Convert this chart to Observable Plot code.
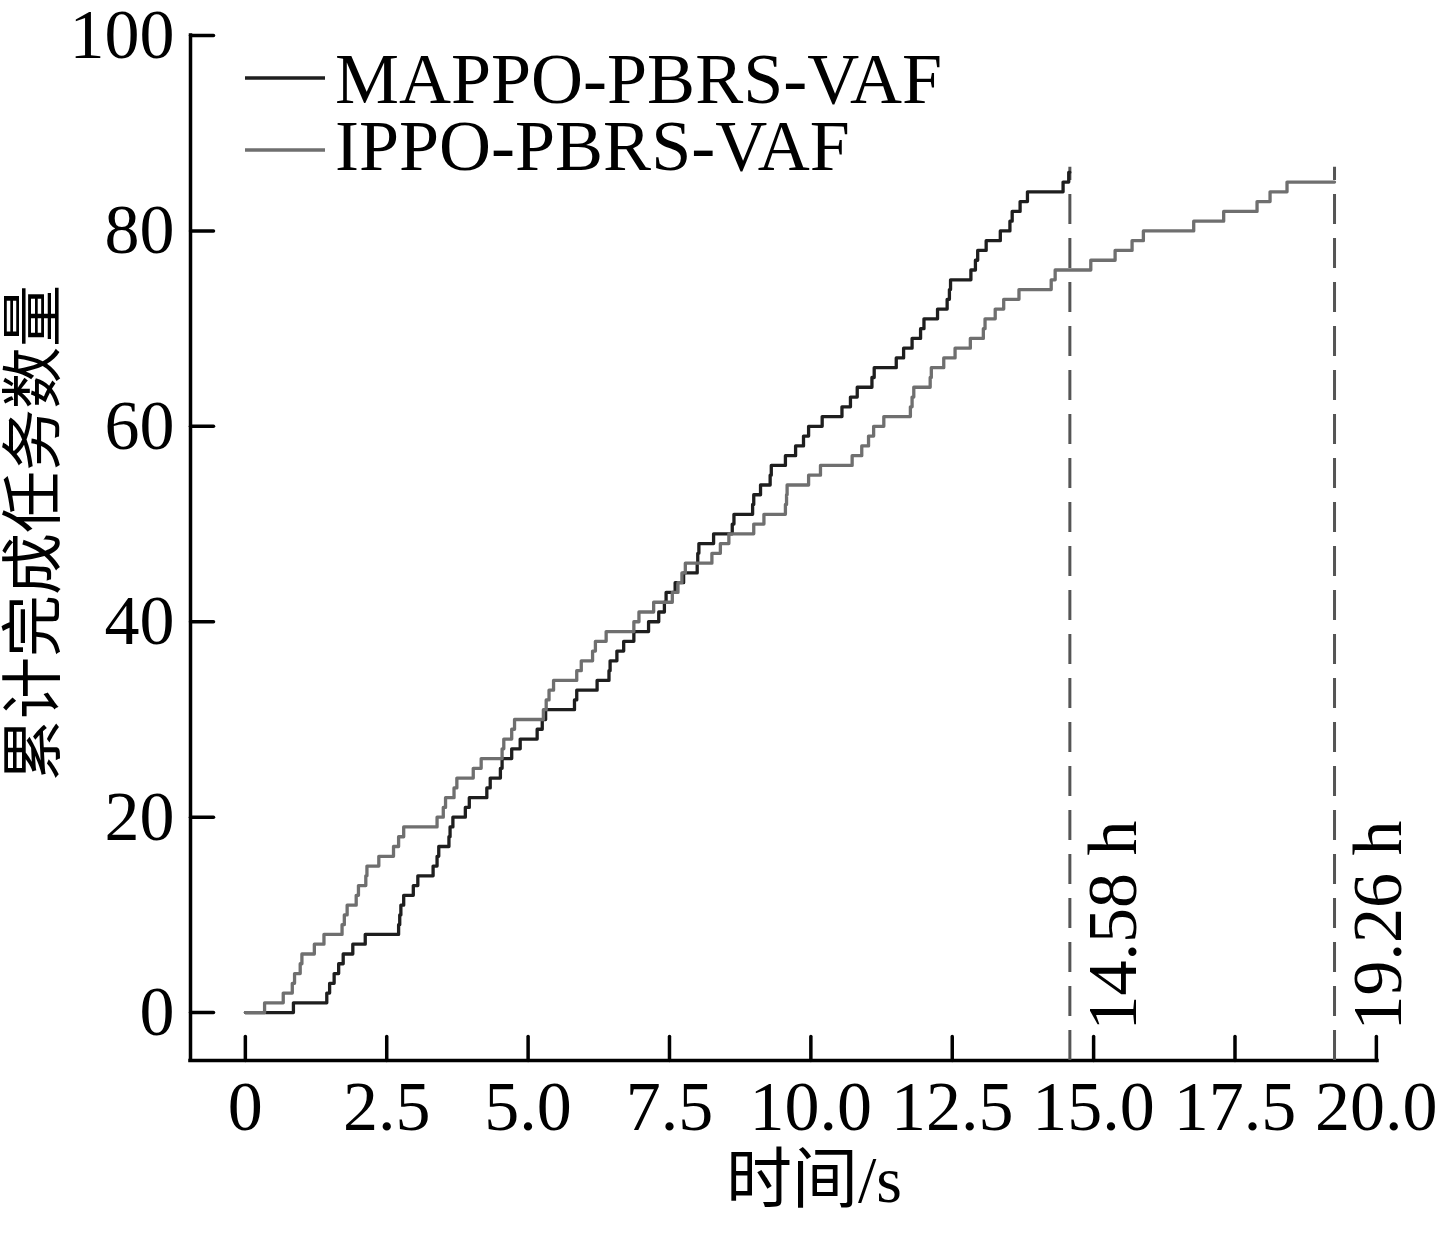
<!DOCTYPE html>
<html>
<head>
<meta charset="utf-8">
<script src="https://cdn.jsdelivr.net/npm/d3@7"></script>
<script src="https://cdn.jsdelivr.net/npm/@observablehq/plot@0.6"></script>
<style>
  html, body { margin: 0; padding: 0; background: #ffffff; }
  #wrap { position: relative; width: 1440px; height: 1238px; background: #ffffff; }
  #legend { position: absolute; left: 0; top: 0; pointer-events: none; }
</style>
</head>
<body>
<div id="wrap"></div>
<script>
// ---------------- data ----------------
const seriesNames = ["MAPPO-PBRS-VAF", "IPPO-PBRS-VAF"];
const seriesColors = ["#1e1e1e", "#6f6f6f"];

// time (s) at which the cumulative completed-task count reaches 1, 2, 3, ...
const mappoStepTimes = [
  0.85, 1.44, 1.49, 1.57, 1.65, 1.73, 1.90, 2.12, 2.71, 2.73,
  2.75, 2.80, 2.97, 3.05, 3.32, 3.39, 3.42, 3.60, 3.62, 3.67,
  3.89, 3.96, 4.27, 4.33, 4.51, 4.54, 4.71, 4.86, 5.16, 5.25,
  5.31, 5.82, 5.86, 6.22, 6.43, 6.45, 6.57, 6.69, 6.87, 7.13,
  7.31, 7.41, 7.44, 7.60, 7.75, 7.99, 8.00, 8.02, 8.28, 8.61,
  8.64, 8.97, 8.99, 9.11, 9.28, 9.30, 9.55, 9.73, 9.87, 9.96,
  10.20, 10.55, 10.70, 10.82, 11.08, 11.12, 11.51, 11.64, 11.79, 11.94,
  12.00, 12.24, 12.41, 12.45, 12.47, 12.83, 12.91, 12.95, 13.10, 13.35,
  13.52, 13.56, 13.70, 13.83, 14.46, 14.56
];
const ippoStepTimes = [
  0.34, 0.67, 0.83, 0.87, 0.97, 1.00, 1.22, 1.39, 1.71, 1.75,
  1.80, 1.96, 2.00, 2.13, 2.15, 2.36, 2.62, 2.71, 2.80, 3.39,
  3.50, 3.54, 3.69, 3.74, 4.03, 4.17, 4.54, 4.57, 4.71, 4.76,
  5.27, 5.32, 5.37, 5.45, 5.86, 5.94, 6.14, 6.19, 6.38, 6.87,
  6.96, 7.22, 7.55, 7.65, 7.72, 7.78, 8.25, 8.40, 8.55, 8.99,
  9.17, 9.55, 9.57, 9.58, 9.96, 10.17, 10.73, 10.90, 11.02, 11.11,
  11.29, 11.76, 11.79, 11.82, 12.11, 12.13, 12.35, 12.55, 12.82, 13.05,
  13.08, 13.26, 13.41, 13.68, 14.25, 14.32, 14.95, 15.38, 15.68, 15.88,
  16.77, 17.30, 17.89, 18.12, 18.42
];
// end of each run (s) — marked with the dashed lines
const endTimes = [14.58, 19.26];
const endLabels = ["14.58 h", "19.26 h"];
const endRuleTop = [86, 86];

const xTicks = [0, 2.5, 5, 7.5, 10, 12.5, 15, 17.5, 20];
const xTickLabels = ["0", "2.5", "5.0", "7.5", "10.0", "12.5", "15.0", "17.5", "20.0"];
const yTicks = [0, 20, 40, 60, 80, 100];
const yTickLabels = ["0", "20", "40", "60", "80", "100"];
const xDomain = [-0.97, 20.02];
const yDomain = [-4.9, 100];
const xLabel = "时间/s";
const yLabel = "累计完成任务数量";

// ---------------- build tables ----------------
function cumulative(stepTimes, endTime) {
  const pts = [{t: 0, v: 0}];
  stepTimes.forEach((t, i) => pts.push({t, v: i + 1}));
  pts.push({t: endTime, v: stepTimes.length});
  return pts;
}
const mappoData = cumulative(mappoStepTimes, endTimes[0]);
const ippoData = cumulative(ippoStepTimes, endTimes[1]);
const endData = endTimes.map((t, i) => ({t, label: endLabels[i], top: endRuleTop[i]}));

const tickShape = {draw(context, l) { context.moveTo(0, 0); context.lineTo(0, -l); }};
const serif = "'Liberation Serif', 'Noto Sans CJK SC', serif";

const chart = Plot.plot({
  width: 1440,
  height: 1238,
  marginLeft: 190,
  marginRight: 63,
  marginTop: 35,
  marginBottom: 178,
  style: {fontFamily: serif, fontSize: "70px", background: "#ffffff", color: "#000000", overflow: "visible"},
  x: {domain: xDomain, label: null},
  y: {domain: yDomain, label: null},
  marks: [
    // axis lines
    Plot.ruleY([yDomain[0]], {stroke: "#000", strokeWidth: 3.5, strokeLinecap: "square"}),
    Plot.ruleX([xDomain[0]], {stroke: "#000", strokeWidth: 3.5, strokeLinecap: "square"}),
    // inward ticks
    Plot.vector(xTicks, {x: d => d, frameAnchor: "bottom", length: 24, rotate: 0, anchor: "start", shape: tickShape, stroke: "#000", strokeWidth: 3.5}),
    Plot.vector(yTicks, {y: d => d, frameAnchor: "left", length: 23, rotate: 90, anchor: "start", shape: tickShape, stroke: "#000", strokeWidth: 3.5}),
    // tick labels
    Plot.axisX({ticks: xTicks, tickSize: 0, tickPadding: 20, label: null, fontSize: 70,
      tickFormat: d => xTickLabels[xTicks.indexOf(d)]}),
    Plot.axisY({ticks: yTicks, tickSize: 0, tickPadding: 16, label: null, fontSize: 70,
      tickFormat: d => yTickLabels[yTicks.indexOf(d)]}),
    // axis titles
    Plot.text([xLabel], {text: d => d, frameAnchor: "bottom", dx: 30, dy: 120, fontSize: 66, lineAnchor: "middle", textAnchor: "middle"}),
    Plot.text([yLabel], {text: d => d, frameAnchor: "left", dx: -155, dy: -15, rotate: -90, fontSize: 62, lineAnchor: "middle", textAnchor: "middle"}),
    // end-of-run dashed lines and labels
    Plot.ruleX(endData, {x: "t", y1: yDomain[0], y2: "top", insetBottom: 5, stroke: "#555555", strokeWidth: 3, strokeDasharray: "30,14"}),
    Plot.text(endData, {x: "t", text: "label", frameAnchor: "bottom", rotate: -90, textAnchor: "start", lineAnchor: "middle", dx: 44, dy: -30, fontSize: 70, fill: "#000"}),
    // cumulative step curves
    Plot.line(mappoData, {x: "t", y: "v", curve: "step-after", stroke: seriesColors[0], strokeWidth: 3.3}),
    Plot.line(ippoData, {x: "t", y: "v", curve: "step-after", stroke: seriesColors[1], strokeWidth: 3.3})
  ]
});

const wrap = document.getElementById("wrap");
wrap.appendChild(chart);

// legend (drawn inside the plot area, upper left)
const legend = d3.select(wrap).append("svg")
  .attr("id", "legend").attr("width", 1440).attr("height", 1238);
const legendRows = [{line: 78, base: 103}, {line: 150, base: 170}];
seriesNames.forEach((name, i) => {
  legend.append("line")
    .attr("x1", 245).attr("x2", 325)
    .attr("y1", legendRows[i].line).attr("y2", legendRows[i].line)
    .attr("stroke", seriesColors[i]).attr("stroke-width", 3.3);
  legend.append("text")
    .attr("x", 335).attr("y", legendRows[i].base)
    .attr("font-family", serif).attr("font-size", 72).attr("fill", "#000")
    .text(name);
});
</script>
</body>
</html>
